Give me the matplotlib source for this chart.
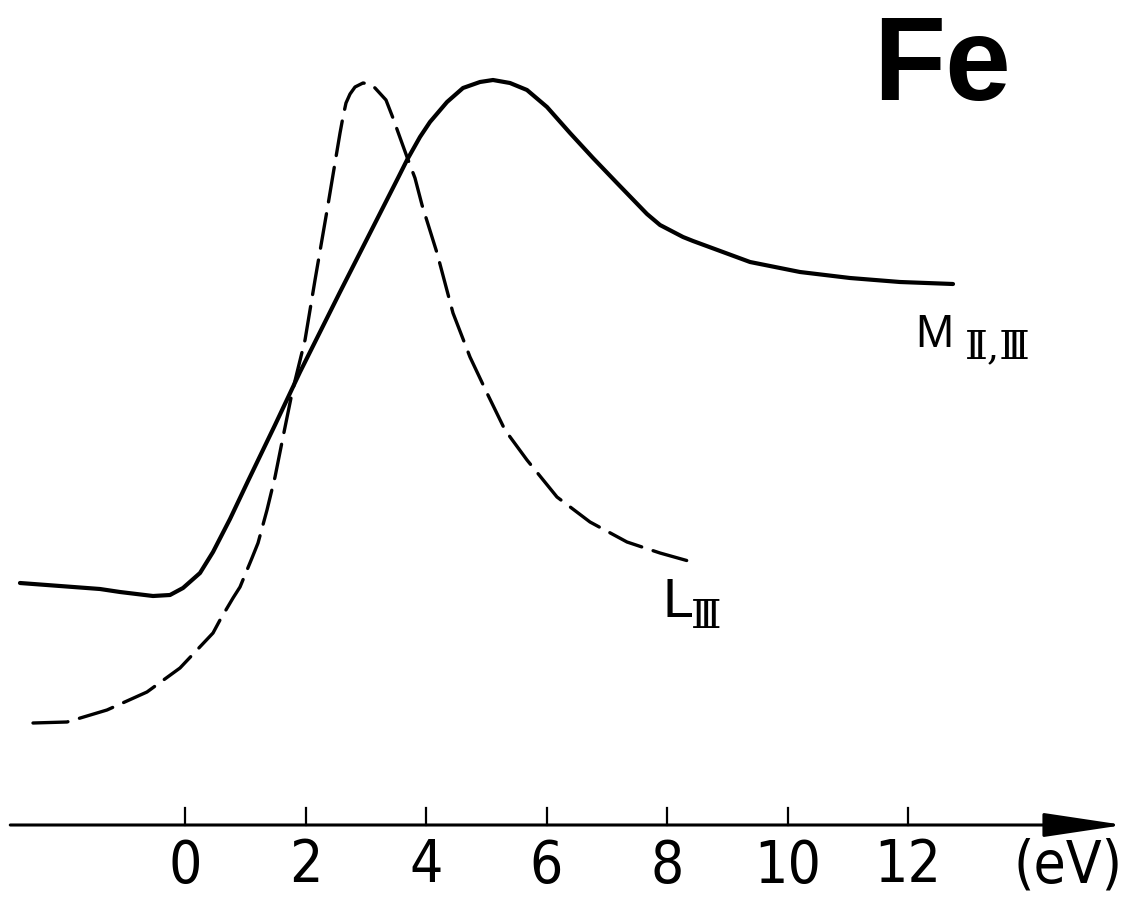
import matplotlib
matplotlib.use("Agg")
import matplotlib.pyplot as plt

# M_II,III edge (solid) - energy (eV), intensity (arb. units)
m_energy = [-2.739, -2.075, -1.411, -1.079, -0.531, -0.249, -0.033, 0.249, 0.465,
            0.747, 1.046, 1.494, 1.909, 2.573, 3.071, 3.535, 3.685, 3.900, 4.066,
            4.349, 4.614, 4.896, 5.112, 5.394, 5.676, 6.008, 6.390, 6.772, 7.170,
            7.668, 7.884, 8.266, 8.432, 9.378, 10.207, 11.037, 11.867, 12.747]
m_intensity = [2.42, 2.39, 2.36, 2.33, 2.29, 2.30, 2.37, 2.52, 2.73,
               3.06, 3.44, 4.00, 4.53, 5.33, 5.92, 6.47, 6.65, 6.88, 7.03,
               7.23, 7.37, 7.43, 7.45, 7.42, 7.35, 7.18, 6.92, 6.67, 6.42,
               6.11, 6.00, 5.88, 5.84, 5.63, 5.53, 5.47, 5.43, 5.41]

# L_III edge (dashed)
l_energy = [-2.523, -1.959, -1.295, -0.631, -0.083, 0.465, 0.581, 0.797, 0.913,
            1.112, 1.212, 1.361, 1.494, 1.627, 1.776, 1.992, 2.158, 2.373, 2.456,
            2.573, 2.622, 2.672, 2.739, 2.822, 2.954, 3.071, 3.154, 3.336, 3.452,
            3.535, 3.685, 3.817, 3.934, 4.183, 4.448, 4.730, 5.012, 5.311, 5.676,
            6.174, 6.722, 7.336, 7.884, 8.415]
l_intensity = [1.02, 1.03, 1.15, 1.33, 1.57, 1.92, 2.05, 2.27, 2.38,
               2.67, 2.82, 3.15, 3.48, 3.88, 4.32, 4.85, 5.45, 6.20, 6.50,
               6.92, 7.08, 7.22, 7.31, 7.38, 7.42, 7.41, 7.37, 7.25, 7.07,
               6.93, 6.68, 6.47, 6.20, 5.72, 5.12, 4.68, 4.32, 3.95, 3.65,
               3.28, 3.03, 2.83, 2.72, 2.63]

tick_values = [0, 2, 4, 6, 8, 10, 12]
tick_labels = ["0", "2", "4", "6", "8", "10", "12"]
unit_label = "(eV)"
element = "Fe"

cond = dict(family="DejaVu Sans", fontstretch="condensed")
narrow = ["Liberation Sans", "DejaVu Sans"]

fig = plt.figure(figsize=(11.29, 9.01), dpi=100)
ax = fig.add_axes([0, 0, 1, 1])
ax.set_xlim(-185 / 60.25, (1129 - 185) / 60.25)
ax.set_ylim(-0.76, 8.25)
ax.axis("off")

ax.plot(m_energy, m_intensity, color="black", lw=3.0, solid_capstyle="round",
        solid_joinstyle="round")
ax.plot(l_energy, l_intensity, color="black", lw=2.4, dashes=(10.5, 3.6),
        dash_capstyle="round", dash_joinstyle="round")

# energy axis with arrow
ax.annotate("", xy=(15.58, 0), xytext=(-2.90, 0),
            arrowprops=dict(arrowstyle="-|>,head_length=5.0,head_width=0.75",
                            mutation_scale=10, lw=2.2, color="black",
                            shrinkA=0, shrinkB=0))
for t, lab in zip(tick_values, tick_labels):
    ax.plot([t, t], [0, 0.17], color="black", lw=1.6)
    ax.text(t, -0.41, lab, ha="center", va="center", fontsize=42, **cond)
ax.text(14.65, -0.41, unit_label, ha="center", va="center", fontsize=42, **cond)

ax.text(11.42, 7.25, element, ha="left", va="baseline", fontsize=85,
        fontweight="bold", family=narrow)

ax.text(12.12, 4.78, "M", ha="left", va="baseline", fontsize=33, family=narrow)
ax.text(12.95, 4.67, "Ⅱ,Ⅲ", ha="left", va="baseline", fontsize=28,
        family=["DejaVu Serif", "DejaVu Sans"])
ax.text(7.93, 2.08, "L", ha="left", va="baseline", fontsize=40, family=narrow)
ax.text(8.40, 1.97, "Ⅲ", ha="left", va="baseline", fontsize=28,
        family=["DejaVu Serif", "DejaVu Sans"])

fig.savefig("out.png", dpi=100)
